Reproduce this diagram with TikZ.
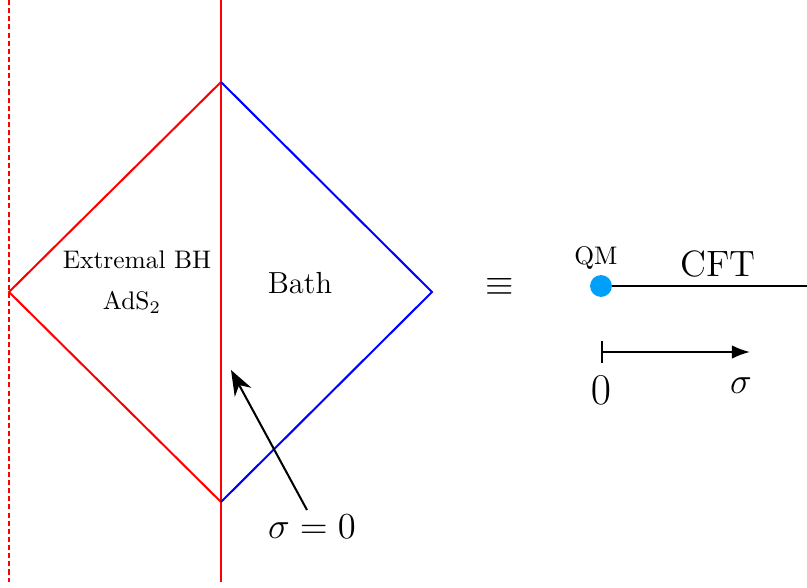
\documentclass[tikz,border=0pt]{standalone}
\usepackage{amsmath,amssymb}
\usepackage{tikz}
\usepackage{xcolor}
\usetikzlibrary{arrows.meta, positioning, calc}
\definecolor{qmblue}{RGB}{0, 160, 250}

\begin{document}
\begin{tikzpicture}[x=0.01382cm, y=-0.01382cm,
    redline/.style={red, line width=0.8pt},
    blueline/.style={blue, line width=0.8pt},
    axis/.style={black, line width=0.8pt}]

\useasboundingbox (0,0) rectangle (807,588);

% Boundary and diamond corners
\coordinate (top) at (221,82);
\coordinate (bot) at (221,502);
\coordinate (left) at (9,292);
\coordinate (right) at (432,292);
\coordinate (cuttop) at (221,0);
\coordinate (cutbot) at (221,582);

\draw[red, line width=0.8pt, dash pattern=on 2pt off 1.2pt] (9,0) -- (9,582);
\draw[redline] (cuttop) -- (cutbot);
\draw[redline] (top) -- (left) -- (bot);
\draw[blueline] (top) -- (right) -- (bot);

% Labels in the diamond
\node (extremal) at (137,260) {Extremal BH};
\node (ads) at (132,302) {AdS$_2$};
\node[font=\large] (bath) at (300,283) {Bath};

% Pointer to the boundary
\node[font=\Large, anchor=north] (sigzero) at (312,506) {$\sigma = 0$};
\coordinate (tip) at (231,370);
\draw[axis, -{Stealth[length=3.5mm, width=2.6mm]}] ($(sigzero.north)+(-5,4)$) -- (tip);

% Equivalent picture
\node[font=\Large] (equiv) at (500,287) {$\equiv$};
\node[circle, fill=qmblue, inner sep=0pt, minimum size=8.6pt] (qm) at (601,286) {};
\node (qmlabel) at (596,258) {QM};
\coordinate (lineend) at (807,286);
\draw[axis] (qm) -- (lineend);
\node[font=\Large] (cft) at (718,264) {CFT};

% sigma axis
\coordinate (origin) at (601,352);
\coordinate (sigend) at (750,352);
\draw[axis, {Bar[width=3mm]}-{Latex[length=2.5mm]}] (origin) -- (sigend);
\node[font=\LARGE] (zero) at (601,390) {$0$};
\node[font=\Large] (sig) at (741,386) {$\sigma$};

\end{tikzpicture}
\end{document}
